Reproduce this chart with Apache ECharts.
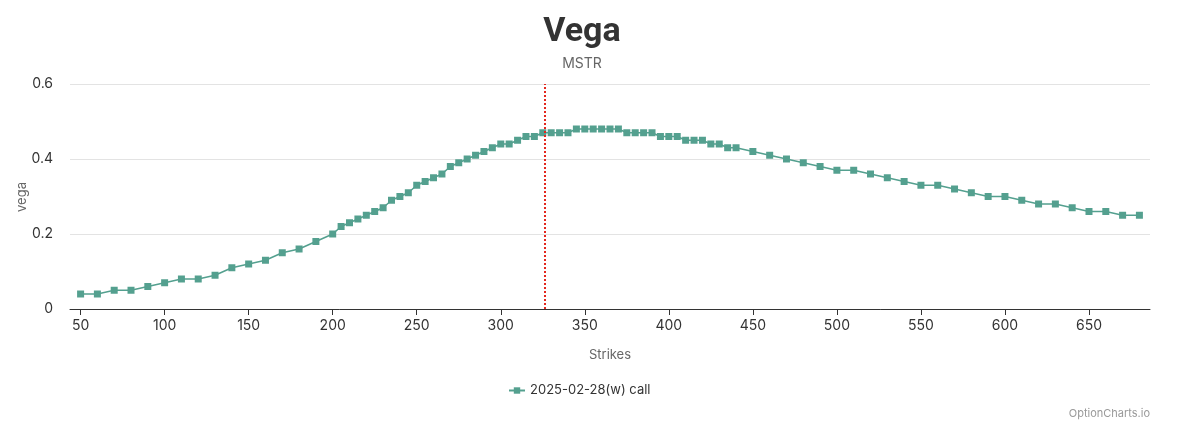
<!DOCTYPE html>
<html>
<head>
<meta charset="utf-8" />
<script src="https://cdn.jsdelivr.net/npm/echarts@6/dist/echarts.min.js"></script>
<style>
  html, body { margin: 0; padding: 0; background: #fff; }
  #main { width: 1200px; height: 424px; }
</style>
</head>
<body>
<div id="main"></div>
<script>
// strikes (step 10 at the wings, 5 near the money)
const strikes = [
  50, 60, 70, 80, 90, 100, 110, 120, 130, 140, 150, 160, 170, 180, 190, 200,
  205, 210, 215, 220, 225, 230, 235, 240, 245, 250, 255, 260, 265, 270, 275,
  280, 285, 290, 295, 300, 305, 310, 315, 320, 325, 330, 335, 340, 345, 350,
  355, 360, 365, 370, 375, 380, 385, 390, 395, 400, 405, 410, 415, 420, 425,
  430, 435, 440, 450, 460, 470, 480, 490, 500, 510, 520, 530, 540, 550, 560,
  570, 580, 590, 600, 610, 620, 630, 640, 650, 660, 670, 680
];
const vegaValues = [
  0.04, 0.04, 0.05, 0.05, 0.06, 0.07, 0.08, 0.08, 0.09, 0.11, 0.12, 0.13, 0.15, 0.16, 0.18, 0.20,
  0.22, 0.23, 0.24, 0.25, 0.26, 0.27, 0.29, 0.30, 0.31, 0.33, 0.34, 0.35, 0.36, 0.38, 0.39,
  0.40, 0.41, 0.42, 0.43, 0.44, 0.44, 0.45, 0.46, 0.46, 0.47, 0.47, 0.47, 0.47, 0.48, 0.48,
  0.48, 0.48, 0.48, 0.48, 0.47, 0.47, 0.47, 0.47, 0.46, 0.46, 0.46, 0.45, 0.45, 0.45, 0.44,
  0.44, 0.43, 0.43, 0.42, 0.41, 0.40, 0.39, 0.38, 0.37, 0.37, 0.36, 0.35, 0.34, 0.33, 0.33,
  0.32, 0.31, 0.30, 0.30, 0.29, 0.28, 0.28, 0.27, 0.26, 0.26, 0.25, 0.25
];
const xTicks = [50, 100, 150, 200, 250, 300, 350, 400, 450, 500, 550, 600, 650];
const spotPrice = 326;
const seriesName = "2025-02-28(w) call";

const myChart = echarts.init(document.getElementById("main"));
const font = "Inter, 'Noto Sans', sans-serif";

const option = {
  animation: false,
  textStyle: { fontFamily: font },
  title: [
    {
      text: "Vega",
      subtext: "MSTR",
      left: 577,
      top: 10,
      textAlign: "center",
      itemGap: 8,
      textStyle: { fontSize: 34, fontWeight: "bold", color: "#333", fontFamily: "Roboto, " + font },
      subtextStyle: { fontSize: 14, color: "#666", fontFamily: font },
    },
    {
      text: "OptionCharts.io",
      right: 45,
      top: 403,
      textStyle: { fontSize: 11, fontWeight: "normal", color: "#999", fontFamily: font },
    },
  ],
  // y axis name, drawn by hand so it sits closer to the labels
  graphic: [
    {
      type: "text",
      x: 22,
      y: 197,
      rotation: Math.PI / 2,
      style: {
        text: "vega",
        fill: "#666",
        font: "13px " + font,
        align: "center",
        verticalAlign: "middle",
      },
    },
  ],
  legend: {
    left: 503,
    top: 379,
    itemWidth: 16,
    itemHeight: 8,
    textStyle: { fontSize: 13, color: "#333" },
    data: [seriesName],
  },
  grid: {
    left: 70,
    right: 50,
    top: 84,
    bottom: 115,
  },
  xAxis: {
    type: "value",
    name: "Strikes",
    nameLocation: "middle",
    nameGap: 40,
    nameTextStyle: { fontSize: 13, color: "#666" },
    min: (v) => v.min - (v.max - v.min) * 0.01,
    max: (v) => v.max + (v.max - v.min) * 0.01,
    axisLine: { lineStyle: { color: "#333" } },
    axisTick: { show: true, length: 6, customValues: xTicks, lineStyle: { color: "#333" } },
    axisLabel: { customValues: xTicks, fontSize: 14, color: "#333", margin: 10 },
    splitLine: { show: false },
  },
  yAxis: {
    type: "value",
    min: 0,
    max: 0.6,
    interval: 0.2,
    axisLine: { show: false },
    axisTick: { show: false },
    axisLabel: { fontSize: 14, color: "#333", margin: 17 },
    splitLine: { lineStyle: { color: "#e3e3e3" } },
  },
  series: [
    {
      name: seriesName,
      type: "line",
      data: strikes.map((s, i) => [s, vegaValues[i]]),
      symbol: "rect",
      symbolSize: 7,
      lineStyle: { width: 1.5, color: "#54a08f" },
      itemStyle: { color: "#54a08f" },
      markLine: {
        silent: true,
        symbol: "none",
        label: { show: false },
        lineStyle: { color: "#e3261e", type: "dotted", width: 2 },
        data: [{ xAxis: spotPrice }],
      },
    },
  ],
};

myChart.setOption(option);
</script>
</body>
</html>
